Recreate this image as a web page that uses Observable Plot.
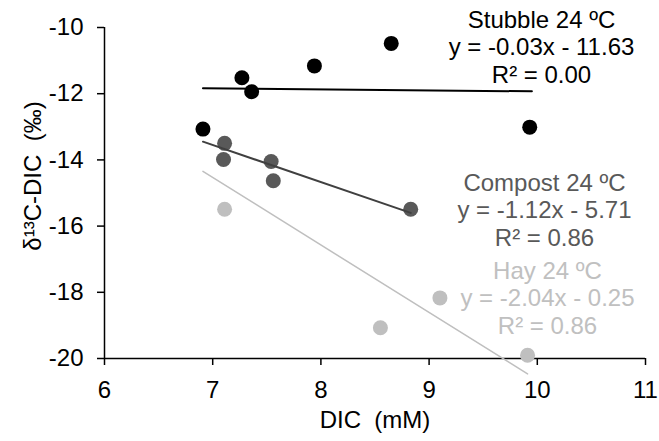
<!DOCTYPE html>
<html>
<head>
<meta charset="utf-8">
<script src="https://cdn.jsdelivr.net/npm/d3@7"></script>
<script src="https://cdn.jsdelivr.net/npm/@observablehq/plot@0.6"></script>
<style>
  html, body { margin: 0; padding: 0; background: #fff; }
  #chart svg { display: block; }
</style>
</head>
<body>
<div id="chart"></div>
<script>
// ---- data ----
const seriesNames = ["Stubble 24 ºC", "Compost 24 ºC", "Hay 24 ºC"];
const stubbleDIC  = [6.91, 7.27, 7.36, 7.94, 8.65, 9.93];
const stubbleD13C = [-13.07, -11.52, -11.94, -11.16, -10.48, -13.01];
const compostDIC  = [7.11, 7.10, 7.54, 7.56, 8.83];
const compostD13C = [-13.50, -13.99, -14.05, -14.63, -15.49];
const hayDIC      = [7.11, 9.10, 8.55, 9.91];
const hayD13C     = [-15.49, -18.17, -19.07, -19.90];
// trendline equations as labelled in the chart
const slopes      = [-0.03, -1.12, -2.04];
const intercepts  = [-11.63, -5.71, -0.25];
const rSquared    = [0.00, 0.86, 0.86];
const trendFrom   = [6.91, 6.91, 6.91];
const trendTo     = [9.95, 8.83, 9.91];
const xTicks = [6, 7, 8, 9, 10, 11];
const yTicks = [-20, -18, -16, -14, -12, -10];
const xTitle = "DIC  (mM)";
const yTitle = "δ¹³C-DIC  (‰)";

const dotColors  = ["#000000", "#595959", "#bfbfbf"];
const lineColors = ["#000000", "#404040", "#bfbfbf"];
const textColors = ["#000000", "#595959", "#c0c0c0"];

const xs = [stubbleDIC, compostDIC, hayDIC];
const ys = [stubbleD13C, compostD13C, hayD13C];
const points = seriesNames.flatMap((name, i) =>
  xs[i].map((x, j) => ({series: name, x, y: ys[i][j]})));
const trends = seriesNames.flatMap((name, i) =>
  [trendFrom[i], trendTo[i]].map(x => ({series: name, x, y: slopes[i] * x + intercepts[i]})));
const fmt = v => v.toFixed(2);
const labels = seriesNames.map((name, i) =>
  `${name}\ny = ${fmt(slopes[i])}x - ${fmt(Math.abs(intercepts[i]))}\nR² = ${fmt(rSquared[i])}`);

const FONT = "'Liberation Sans', Arial, sans-serif";
const FS = 24;
const labelOffsets = [[-104, -19.5], [-101, 143.9], [-98, 231.5]];

const plot = Plot.plot({
  width: 659,
  height: 441,
  marginLeft: 104,
  marginRight: 14,
  marginTop: 27,
  marginBottom: 83,
  style: {fontFamily: FONT, fontSize: FS + "px", color: "#000", background: "#fff"},
  x: {domain: [6, 11]},
  y: {domain: [-20, -10]},
  marks: [
    Plot.axisX({ticks: xTicks, tickSize: 7, tickPadding: 15, tickFormat: d => String(d), label: null, fontSize: FS, strokeWidth: 1.5, stroke: "#000"}),
    Plot.axisY({ticks: yTicks, tickSize: 7, tickPadding: 14, tickFormat: d => String(d), label: null, fontSize: FS, strokeWidth: 1.5, stroke: "#000"}),
    Plot.ruleX([6], {stroke: "#000", strokeWidth: 1.5, y1: -20, y2: -10}),
    Plot.ruleY([-20], {stroke: "#000", strokeWidth: 1.5}),
    ...seriesNames.map((name, i) =>
      Plot.dot(points.filter(d => d.series === name), {x: "x", y: "y", r: 7.5, fill: dotColors[i], stroke: "none"})),
    ...seriesNames.map((name, i) =>
      Plot.line(trends.filter(d => d.series === name), {x: "x", y: "y", stroke: lineColors[i], strokeWidth: i === 2 ? 1.5 : 2, clip: false})),
    ...labels.map((t, i) =>
      Plot.text([t], {frameAnchor: "top-right", textAnchor: "middle", lineAnchor: "top", lineHeight: 1.146,
        dx: labelOffsets[i][0], dy: labelOffsets[i][1], fill: textColors[i], fontSize: FS})),
    Plot.text([xTitle], {frameAnchor: "bottom", textAnchor: "middle", lineAnchor: "bottom", dy: 69, fontSize: FS, fill: "#000"}),
    Plot.text([yTitle], {frameAnchor: "left", textAnchor: "middle", lineAnchor: "middle", rotate: -90, dx: -71, dy: -17, fontSize: FS, fill: "#000"})
  ]
});
document.getElementById("chart").appendChild(plot);
</script>
</body>
</html>
